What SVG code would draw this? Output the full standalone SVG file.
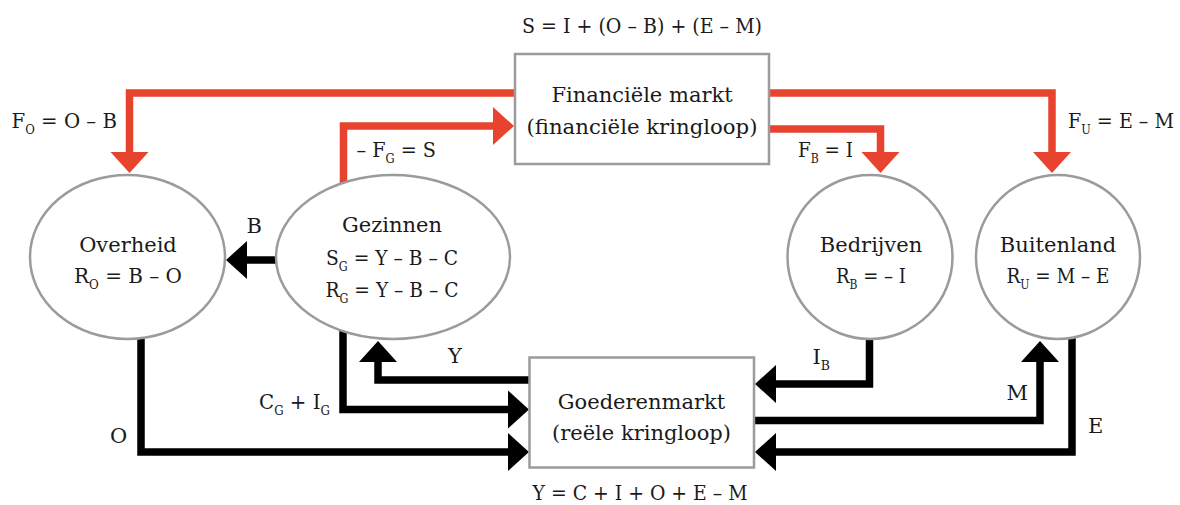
<svg xmlns="http://www.w3.org/2000/svg" width="1180" height="505" viewBox="0 0 1180 505">
<style>
text{font-family:"DejaVu Serif","Liberation Serif",serif;font-size:21px;fill:#1a1a1a}
.m{text-anchor:middle}
.sub{font-size:12.5px}
.node{fill:#fff;stroke:#9b9b9d;stroke-width:2.5}
.red{fill:none;stroke:#e8432e;stroke-width:7.5;stroke-linejoin:miter}
.blk{fill:none;stroke:#000;stroke-width:7.5;stroke-linejoin:miter}
</style>
<defs>
<marker id="ahr" markerUnits="userSpaceOnUse" markerWidth="22" markerHeight="40" viewBox="0 -20 22 40" refX="0" refY="0" orient="auto"><path d="M0,-19 L21,0 L0,19 z" fill="#e8432e"/></marker>
<marker id="ahb" markerUnits="userSpaceOnUse" markerWidth="22" markerHeight="40" viewBox="0 -20 22 40" refX="0" refY="0" orient="auto"><path d="M0,-19 L21,0 L0,19 z" fill="#000"/></marker>
</defs>
<g id="connectors">
<path class="red" d="M516,93 H129.5 V152" marker-end="url(#ahr)"/>
<path class="red" d="M768,93 H1052 V152" marker-end="url(#ahr)"/>
<path class="red" d="M343.5,185 V126 H493" marker-end="url(#ahr)"/>
<path class="red" d="M768,129 H880.5 V152" marker-end="url(#ahr)"/>
<path class="blk" d="M278,260 H247" marker-end="url(#ahb)"/>
<path class="blk" d="M141,334 V452 H508" marker-end="url(#ahb)"/>
<path class="blk" d="M343,329 V409.5 H508" marker-end="url(#ahb)"/>
<path class="blk" d="M530,380 H378 V362" marker-end="url(#ahb)"/>
<path class="blk" d="M869.5,336 V384 H776" marker-end="url(#ahb)"/>
<path class="blk" d="M753,420.5 H1040 V362" marker-end="url(#ahb)"/>
<path class="blk" d="M1072,334 V452 H776" marker-end="url(#ahb)"/>
<text x="11.5" y="128" textLength="105.5" lengthAdjust="spacingAndGlyphs">F<tspan class="sub" dy="6">O</tspan><tspan dy="-6"> = O – B</tspan></text>
<text x="356.5" y="156.5" textLength="79.5" lengthAdjust="spacingAndGlyphs">– F<tspan class="sub" dy="6">G</tspan><tspan dy="-6"> = S</tspan></text>
<text x="798" y="156.5" textLength="55" lengthAdjust="spacingAndGlyphs">F<tspan class="sub" dy="6">B</tspan><tspan dy="-6"> = I</tspan></text>
<text x="1068" y="128" textLength="106" lengthAdjust="spacingAndGlyphs">F<tspan class="sub" dy="6">U</tspan><tspan dy="-6"> = E – M</tspan></text>
<text x="246.5" y="233">B</text>
<text x="448" y="363">Y</text>
<text x="259" y="409" textLength="71" lengthAdjust="spacingAndGlyphs">C<tspan class="sub" dy="6">G</tspan><tspan dy="-6"> + I</tspan><tspan class="sub" dy="6">G</tspan></text>
<text x="110" y="443">O</text>
<text x="812.5" y="364">I<tspan class="sub" dy="6">B</tspan></text>
<text x="1006.5" y="400">M</text>
<text x="1088" y="432.5">E</text>
</g>
<g id="financiele-markt">
<rect class="node" x="515" y="54" width="254" height="110"/>
<text class="m" x="642" y="33" textLength="240" lengthAdjust="spacingAndGlyphs">S = I + (O – B) + (E – M)</text>
<text class="m" x="642" y="101.5">Financiële markt</text>
<text class="m" x="642" y="134" textLength="231" lengthAdjust="spacingAndGlyphs">(financiële kringloop)</text>
</g>
<g id="goederenmarkt">
<rect class="node" x="529.5" y="357.5" width="224.5" height="110"/>
<text class="m" x="641.5" y="409">Goederenmarkt</text>
<text class="m" x="641.5" y="440">(reële kringloop)</text>
<text class="m" x="640" y="500" textLength="215" lengthAdjust="spacingAndGlyphs">Y = C + I + O + E – M</text>
</g>
<g id="overheid">
<ellipse class="node" cx="127.5" cy="257" rx="97.5" ry="82"/>
<text class="m" x="128" y="251.5">Overheid</text>
<text class="m" x="128" y="283" textLength="108" lengthAdjust="spacingAndGlyphs">R<tspan class="sub" dy="6">O</tspan><tspan dy="-6"> = B – O</tspan></text>
</g>
<g id="gezinnen">
<ellipse class="node" cx="393" cy="257" rx="117" ry="82"/>
<text class="m" x="392" y="232">Gezinnen</text>
<text class="m" x="392" y="264.5" textLength="132" lengthAdjust="spacingAndGlyphs">S<tspan class="sub" dy="6">G</tspan><tspan dy="-6"> = Y – B – C</tspan></text>
<text class="m" x="392" y="296.5" textLength="133" lengthAdjust="spacingAndGlyphs">R<tspan class="sub" dy="6">G</tspan><tspan dy="-6"> = Y – B – C</tspan></text>
</g>
<g id="bedrijven">
<ellipse class="node" cx="870" cy="257" rx="82.5" ry="82"/>
<text class="m" x="871" y="251.5">Bedrijven</text>
<text class="m" x="871" y="283" textLength="70" lengthAdjust="spacingAndGlyphs">R<tspan class="sub" dy="6">B</tspan><tspan dy="-6"> = – I</tspan></text>
</g>
<g id="buitenland">
<ellipse class="node" cx="1058" cy="257" rx="82" ry="82"/>
<text class="m" x="1058" y="251.5">Buitenland</text>
<text class="m" x="1058" y="283" textLength="103" lengthAdjust="spacingAndGlyphs">R<tspan class="sub" dy="6">U</tspan><tspan dy="-6"> = M – E</tspan></text>
</g>
</svg>
